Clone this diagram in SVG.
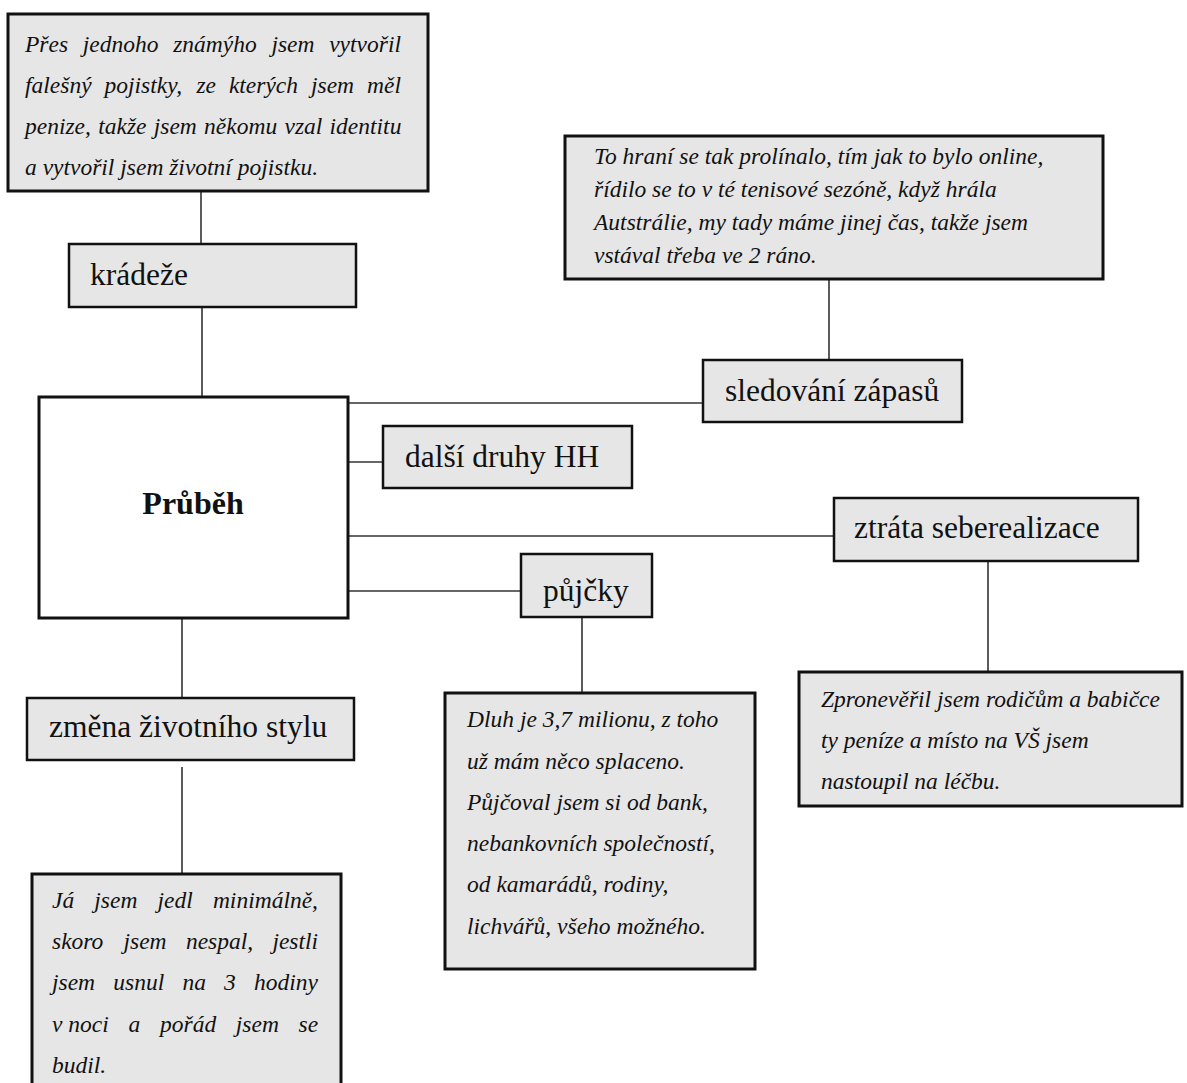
<svg xmlns="http://www.w3.org/2000/svg" width="1187" height="1083" viewBox="0 0 1187 1083">
<style>
.q{fill:#e6e6e6;stroke:#111;stroke-width:3}
.l{fill:#e6e6e6;stroke:#111;stroke-width:2.5}
.c{fill:#fff;stroke:#111;stroke-width:3}
.lbl{font-family:"Liberation Serif","Times New Roman",serif;font-size:31.5px;fill:#111}
.it{font-family:"Liberation Serif","Times New Roman",serif;font-size:23.5px;font-style:italic;fill:#111}
.b{font-family:"Liberation Serif","Times New Roman",serif;font-size:32px;font-weight:bold;fill:#111}
#connectors line{stroke:#333;stroke-width:1.6}
</style>
<rect width="1187" height="1083" fill="#fff"/>
<g id="connectors">
<line x1="201" y1="191" x2="201" y2="244"/>
<line x1="202" y1="307" x2="202" y2="397"/>
<line x1="348" y1="403" x2="703" y2="403"/>
<line x1="829" y1="279" x2="829" y2="360"/>
<line x1="348" y1="462" x2="383" y2="462"/>
<line x1="348" y1="536" x2="834" y2="536"/>
<line x1="348" y1="591" x2="521" y2="591"/>
<line x1="582" y1="617" x2="582" y2="693"/>
<line x1="988" y1="561" x2="988" y2="672"/>
<line x1="182" y1="618" x2="182" y2="698"/>
<line x1="182" y1="767" x2="182" y2="874"/>
</g>
<g id="q-kradeze">
<rect class="q" x="8" y="14" width="420" height="177"/>
<text class="it" y="52"><tspan x="25">Přes</tspan><tspan x="82.8">jednoho</tspan><tspan x="173.2">známýho</tspan><tspan x="271.4">jsem</tspan><tspan x="329.2">vytvořil</tspan></text>
<text class="it" y="93"><tspan x="25">falešný</tspan><tspan x="104.5">pojistky,</tspan><tspan x="196.4">ze</tspan><tspan x="228.9">kterých</tspan><tspan x="311">jsem</tspan><tspan x="367">měl</tspan></text>
<text class="it" x="25" y="134" word-spacing="1.4">penize, takže jsem někomu vzal identitu</text>
<text class="it" x="25" y="175">a vytvořil jsem životní pojistku.</text>
</g>
<g id="kradeze">
<rect class="l" x="69" y="244" width="287" height="63"/>
<text class="lbl" x="90" y="285">krádeže</text>
</g>
<g id="q-sledovani">
<rect class="q" x="565" y="136" width="538" height="143"/>
<text class="it" x="594" y="164">To hraní se tak prolínalo, tím jak to bylo online,</text>
<text class="it" x="594" y="197">řídilo se to v té tenisové sezóně, když hrála</text>
<text class="it" x="594" y="230">Autstrálie, my tady máme jinej čas, takže jsem</text>
<text class="it" x="594" y="263">vstával třeba ve 2 ráno.</text>
</g>
<g id="sledovani">
<rect class="l" x="703" y="360" width="259" height="62"/>
<text class="lbl" x="725" y="401">sledování zápasů</text>
</g>
<g id="prubeh">
<rect class="c" x="39" y="397" width="309" height="221"/>
<text class="b" x="193" y="514" text-anchor="middle">Průběh</text>
</g>
<g id="dalsi">
<rect class="l" x="383" y="426" width="249" height="62"/>
<text class="lbl" x="405" y="467">další druhy HH</text>
</g>
<g id="ztrata">
<rect class="l" x="834" y="498" width="304" height="63"/>
<text class="lbl" x="854" y="538">ztráta seberealizace</text>
</g>
<g id="pujcky">
<rect class="l" x="521" y="554" width="131" height="63"/>
<text class="lbl" x="543" y="601">půjčky</text>
</g>
<g id="zmena">
<rect class="l" x="27" y="698" width="327" height="62"/>
<text class="lbl" x="49" y="737">změna životního stylu</text>
</g>
<g id="q-ztrata">
<rect class="q" x="799" y="672" width="383" height="134"/>
<text class="it" x="821" y="707">Zpronevěřil jsem rodičům a babičce</text>
<text class="it" x="821" y="748">ty peníze a místo na VŠ jsem</text>
<text class="it" x="821" y="789">nastoupil na léčbu.</text>
</g>
<g id="q-pujcky">
<rect class="q" x="445" y="693" width="310" height="276"/>
<text class="it" x="467" y="727">Dluh je 3,7 milionu, z toho</text>
<text class="it" x="467" y="769">už mám něco splaceno.</text>
<text class="it" x="467" y="810">Půjčoval jsem si od bank,</text>
<text class="it" x="467" y="851">nebankovních společností,</text>
<text class="it" x="467" y="892">od kamarádů, rodiny,</text>
<text class="it" x="467" y="934">lichvářů, všeho možného.</text>
</g>
<g id="q-zmena">
<rect class="q" x="32" y="874" width="309" height="230"/>
<text class="it" y="908"><tspan x="52">Já</tspan><tspan x="94.3">jsem</tspan><tspan x="157.5">jedl</tspan><tspan x="212.9">minimálně,</tspan></text>
<text class="it" y="949"><tspan x="52">skoro</tspan><tspan x="123.5">jsem</tspan><tspan x="185.9">nespal,</tspan><tspan x="272.4">jestli</tspan></text>
<text class="it" y="990"><tspan x="52">jsem</tspan><tspan x="113.3">usnul</tspan><tspan x="182.4">na</tspan><tspan x="224.1">3</tspan><tspan x="254">hodiny</tspan></text>
<text class="it" y="1032"><tspan x="52">v noci</tspan><tspan x="128.5">a</tspan><tspan x="160">pořád</tspan><tspan x="235.8">jsem</tspan><tspan x="298.5">se</tspan></text>
<text class="it" x="52" y="1073">budil.</text>
</g>
</svg>
